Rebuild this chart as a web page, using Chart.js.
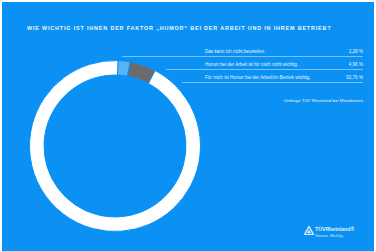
<!DOCTYPE html>
<html><head><meta charset="utf-8">
<script src="https://cdn.jsdelivr.net/npm/chart.js@4/dist/chart.umd.min.js"></script>
<style>
html,body{margin:0;padding:0;background:#fff;width:376px;height:251px;overflow:hidden;font-family:"Liberation Sans",Arial,sans-serif;}
#panel{position:absolute;left:2px;top:2px;width:372px;height:249px;background:#0a91f3;}
.t{position:absolute;color:#fff;white-space:nowrap;}
#title{left:25px;top:23px;font-size:5.4px;font-weight:bold;letter-spacing:0.85px;color:#eef7ff;}
.row{position:absolute;left:203px;width:158px;font-size:4.6px;color:#e6f3fe;}
.row .v{position:absolute;right:0;top:0;}
.line{position:absolute;height:1px;background:rgba(255,255,255,0.45);}
#src{position:absolute;right:11px;top:96px;font-size:4.4px;color:#e6f3fe;}
#c{position:absolute;left:27px;top:58px;}
</style></head><body>
<div id="panel">
<div id="title" class="t">WIE WICHTIG IST IHNEN DER FAKTOR „HUMOR“ BEI DER ARBEIT UND IN IHREM BETRIEB?</div>
<div id="legend"></div>
<div id="src">Umfrage TÜV Rheinland bei Mitarbeitern</div>
<svg style="position:absolute;left:302px;top:224px" width="10" height="9"><polygon points="5,0.5 9.5,8.5 0.5,8.5" fill="none" stroke="#d8ecfd" stroke-width="1.4"/><polygon points="5,3.5 7,7 3,7" fill="#d8ecfd"/></svg>
<div class="t" style="left:313px;top:224px;font-size:5.2px;font-weight:bold;color:#e0f0fe">TÜVRheinland®</div>
<div class="t" style="left:313px;top:231px;font-size:4.2px;color:#d0e8fd">Genau. Richtig.</div>
<canvas id="c" width="172" height="172"></canvas>
</div>
<script>
const labels = ["Das kann ich nicht beurteilen.", "Humor bei der Arbeit ist für mich nicht wichtig.", "Für mich ist Humor bei der Arbeit/im Betrieb wichtig."];
const values = [2.28, 4.96, 92.76];
const valueLabels = ["2,28 %", "4,96 %", "92,76 %"];
const colors = ["#5cb3f4", "#6b6b6b", "#ffffff"];

const leg = document.getElementById('legend');
const rowTops = [47, 60, 73];
const lineStarts = [120, 164, 180];
labels.forEach((l,i)=>{
  const r = document.createElement('div');
  r.className='row t'; r.style.top = rowTops[i]+'px';
  r.innerHTML = l + '<span class="v">'+valueLabels[i]+'</span>';
  leg.appendChild(r);
  const ln = document.createElement('div');
  ln.className='line'; ln.style.top=(rowTops[i]+7)+'px';
  ln.style.left=lineStarts[i]+'px'; ln.style.width=(361-lineStarts[i])+'px';
  leg.appendChild(ln);
});

new Chart(document.getElementById('c'), {
  type:'doughnut',
  data:{labels:labels, datasets:[{data:values, backgroundColor:colors, borderColor:'#0a91f3', borderWidth:1}]},
  options:{responsive:false, animation:false, cutout:'83%', rotation:2,
    layout:{padding:0},
    plugins:{legend:{display:false}, tooltip:{enabled:false}}}
});
</script>
</body></html>
